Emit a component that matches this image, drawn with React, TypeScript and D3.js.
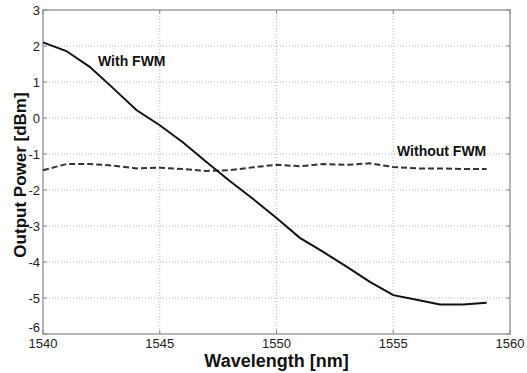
import React from "react";
import * as d3 from "d3";

const wavelengths = [1540, 1541, 1542, 1543, 1544, 1545, 1546, 1547, 1548, 1549, 1550, 1551, 1552, 1553, 1554, 1555, 1556, 1557, 1558, 1559];
const withFWM = [2.1, 1.86, 1.42, 0.83, 0.22, -0.2, -0.68, -1.22, -1.75, -2.25, -2.78, -3.33, -3.72, -4.13, -4.55, -4.92, -5.05, -5.18, -5.18, -5.13];
const withoutFWM = [-1.45, -1.28, -1.28, -1.32, -1.4, -1.38, -1.42, -1.47, -1.45, -1.37, -1.3, -1.34, -1.28, -1.3, -1.26, -1.36, -1.4, -1.4, -1.42, -1.42];
const xTicks = [1540, 1545, 1550, 1555, 1560];
const yTicks = [-6, -5, -4, -3, -2, -1, 0, 1, 2, 3];

export default function App() {
  const W = 527, H = 373;
  const left = 43, right = 510, top = 10, bottom = 334;
  const x = d3.scaleLinear().domain([1540, 1560]).range([left, right]);
  const y = d3.scaleLinear().domain([-6, 3]).range([bottom, top]);
  const line = (vals: number[]) =>
    d3.line<number>().x((_, i) => x(wavelengths[i])).y((v) => y(v))(vals) || "";
  const font = "Arial, 'Liberation Sans', Helvetica, sans-serif";
  return (
    <svg width={W} height={H} style={{ position: "absolute", left: 0, top: 0, background: "#fff" }}>
      <rect x={0} y={0} width={W} height={H} fill="#fff" />
      {yTicks.filter((t) => t > -6 && t < 3).map((t) => (
        <line key={"gy" + t} x1={left} x2={right} y1={y(t)} y2={y(t)} stroke="#bbb" strokeWidth={1} strokeDasharray="1,2" />
      ))}
      {xTicks.filter((t) => t > 1540 && t < 1560).map((t) => (
        <line key={"gx" + t} x1={x(t)} x2={x(t)} y1={top} y2={bottom} stroke="#bbb" strokeWidth={1} strokeDasharray="1,2" />
      ))}
      <rect x={left} y={top} width={right - left} height={bottom - top} fill="none" stroke="#888" strokeWidth={1.2} />
      {yTicks.map((t) => (
        <g key={"ty" + t}>
          <line x1={left} x2={left + 4} y1={y(t)} y2={y(t)} stroke="#888" />
          <line x1={right} x2={right - 4} y1={y(t)} y2={y(t)} stroke="#888" />
          <text x={left - 3} y={y(t) + (t === -6 ? -2 : 5)} textAnchor="end" fontFamily={font} fontSize={13} fill="#222">{t}</text>
        </g>
      ))}
      {xTicks.map((t) => (
        <g key={"tx" + t}>
          <line x1={x(t)} x2={x(t)} y1={bottom} y2={bottom - 4} stroke="#888" />
          <line x1={x(t)} x2={x(t)} y1={top} y2={top + 4} stroke="#888" />
          <text x={x(t)} y={348} textAnchor="middle" fontFamily={font} fontSize={13} fill="#222">{t}</text>
        </g>
      ))}
      <path d={line(withoutFWM)} fill="none" stroke="#333" strokeWidth={2} strokeDasharray="6,3" />
      <path d={line(withFWM)} fill="none" stroke="#111" strokeWidth={2} />
      <text x={98} y={66} fontFamily={font} fontSize={14} fontWeight="bold" fill="#111">With FWM</text>
      <text x={397} y={156} fontFamily={font} fontSize={14} fontWeight="bold" fill="#111">Without FWM</text>
      <text x={(left + right) / 2} y={367} textAnchor="middle" fontFamily={font} fontSize={18} fontWeight="bold" fill="#111">Wavelength [nm]</text>
      <text transform={`translate(26,${(top + bottom) / 2 + 3}) rotate(-90)`} textAnchor="middle" fontFamily={font} fontSize={17} fontWeight="bold" fill="#111">Output Power [dBm]</text>
    </svg>
  );
}
